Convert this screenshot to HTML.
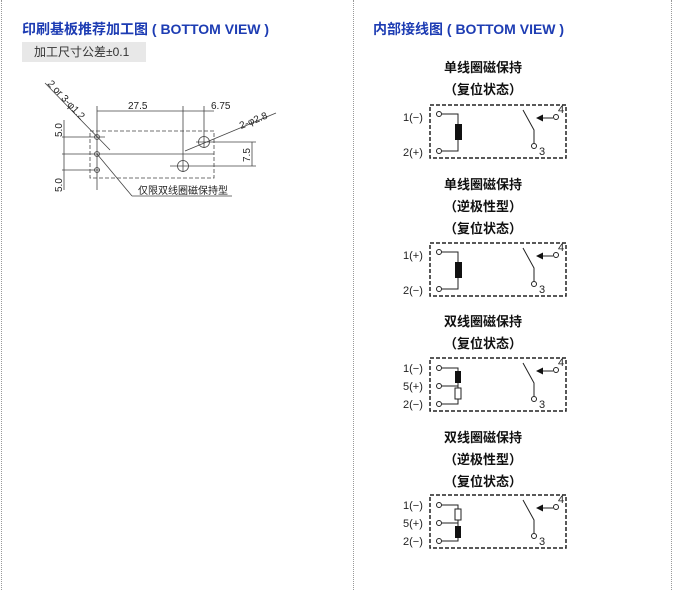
<!DOCTYPE html>
<html><head><meta charset="utf-8"><style>
html,body{margin:0;padding:0;background:#fff;}
body{width:673px;height:590px;position:relative;overflow:hidden;font-family:"Liberation Sans","Noto Sans CJK SC",sans-serif;}
.vl{position:absolute;top:0;height:590px;border-left:1px dotted #999;}
.h{position:absolute;top:19px;font-size:14px;font-weight:bold;color:#1d3cb3;white-space:nowrap;}
.tag{position:absolute;left:22px;top:42px;width:124px;height:20px;background:#e8e8e8;font-size:12px;color:#333;line-height:20px;text-indent:12px;}
svg{position:absolute;left:0;top:0;}
</style></head><body>
<div class="vl" style="left:1px"></div>
<div class="vl" style="left:353px"></div>
<div class="vl" style="left:671px"></div>
<div class="h" style="left:22px">印刷基板推荐加工图 ( BOTTOM VIEW )</div>
<div class="h" style="left:373px">内部接线图 ( BOTTOM VIEW )</div>
<div class="tag">加工尺寸公差±0.1</div>
<svg width="673" height="590" viewBox="0 0 673 590" font-family="Liberation Sans, Noto Sans CJK SC, sans-serif">
<defs>
<marker id="ar" markerWidth="6" markerHeight="6" refX="5" refY="3" orient="auto"><path d="M0,1 L5,3 L0,5z" fill="#333"/></marker>
</defs>
<g stroke="#444" stroke-width="0.8" fill="none">
<rect x="90" y="131" width="124" height="47" stroke-dasharray="4,2"/>
<circle cx="97" cy="137" r="2.5"/><circle cx="97" cy="154" r="2.5"/><circle cx="97" cy="170" r="2.5"/>
<circle cx="204" cy="142" r="5.5"/><circle cx="183" cy="166" r="5.5"/>
<line x1="97" y1="106" x2="97" y2="190"/><line x1="183" y1="106" x2="183" y2="172"/><line x1="204" y1="106" x2="204" y2="148"/>
<line x1="97" y1="111" x2="183" y2="111"/><line x1="183" y1="111" x2="214" y2="111"/>
<line x1="62" y1="137" x2="105" y2="137"/><line x1="62" y1="154" x2="214" y2="154"/><line x1="62" y1="170" x2="100" y2="170"/>
<line x1="64" y1="120" x2="64" y2="190"/>
<line x1="196" y1="142" x2="256" y2="142"/><line x1="170" y1="166" x2="256" y2="166"/>
<line x1="252" y1="142" x2="252" y2="166"/>
<line x1="185" y1="151" x2="276" y2="113"/>
<line x1="45" y1="83" x2="110" y2="150"/>
<line x1="97" y1="154" x2="132" y2="196"/><line x1="132" y1="196" x2="232" y2="196"/>
</g>
<g font-size="10" fill="#222">
<text x="128" y="109">27.5</text><text x="211" y="109">6.75</text>
<text transform="translate(62,137) rotate(-90)">5.0</text>
<text transform="translate(62,192) rotate(-90)">5.0</text>
<text transform="translate(250,162) rotate(-90)">7.5</text>
<text transform="translate(241,129) rotate(-22)">2-φ2.8</text>
<text transform="translate(47,84) rotate(47)">2 or 3-φ1.2</text>
<text x="138" y="194">仅限双线圈磁保持型</text>
</g>
<g font-size="13" font-weight="bold" fill="#111" text-anchor="middle">
<text x="483" y="72">单线圈磁保持</text><text x="483" y="94">（复位状态）</text>
<text x="483" y="189">单线圈磁保持</text><text x="483" y="211">（逆极性型）</text><text x="483" y="233">（复位状态）</text>
<text x="483" y="326">双线圈磁保持</text><text x="483" y="348">（复位状态）</text>
<text x="483" y="442">双线圈磁保持</text><text x="483" y="464">（逆极性型）</text><text x="483" y="486">（复位状态）</text>
</g>
<!-- circuit template -->
<g id="sw" stroke="#222" stroke-width="1" fill="none">
</g>
<g font-size="11" fill="#222">
<!-- box1 -->
<g transform="translate(0,0)">
<rect x="430" y="105" width="136" height="53" fill="none" stroke="#222" stroke-width="1.5" stroke-dasharray="4,2"/>
<text x="403" y="121">1(−)</text><text x="403" y="156">2(+)</text>
<g stroke="#222" fill="none"><circle cx="439" cy="114" r="2.5"/><circle cx="439" cy="151" r="2.5"/>
<polyline points="442,114 458,114 458,151 442,151"/></g>
<rect x="455" y="124" width="7" height="16" fill="#111"/>
</g>
<g transform="translate(0,138)">
<rect x="430" y="105" width="136" height="53" fill="none" stroke="#222" stroke-width="1.5" stroke-dasharray="4,2"/>
<text x="403" y="121">1(+)</text><text x="403" y="156">2(−)</text>
<g stroke="#222" fill="none"><circle cx="439" cy="114" r="2.5"/><circle cx="439" cy="151" r="2.5"/>
<polyline points="442,114 458,114 458,151 442,151"/></g>
<rect x="455" y="124" width="7" height="16" fill="#111"/>
</g>
<g transform="translate(0,253)">
<rect x="430" y="105" width="136" height="53" fill="none" stroke="#222" stroke-width="1.5" stroke-dasharray="4,2"/>
<text x="403" y="119">1(−)</text><text x="403" y="137">5(+)</text><text x="403" y="155">2(−)</text>
<g stroke="#222" fill="none"><circle cx="439" cy="115" r="2.5"/><circle cx="439" cy="133" r="2.5"/><circle cx="439" cy="151" r="2.5"/>
<polyline points="442,115 458,115 458,151 442,151"/><line x1="442" y1="133" x2="458" y2="133"/>
<rect x="455" y="135" width="6" height="11" fill="#fff"/></g>
<rect x="455" y="118" width="6" height="12" fill="#111"/>
</g>
<g transform="translate(0,390)">
<rect x="430" y="105" width="136" height="53" fill="none" stroke="#222" stroke-width="1.5" stroke-dasharray="4,2"/>
<text x="403" y="119">1(−)</text><text x="403" y="137">5(+)</text><text x="403" y="155">2(−)</text>
<g stroke="#222" fill="none"><circle cx="439" cy="115" r="2.5"/><circle cx="439" cy="133" r="2.5"/><circle cx="439" cy="151" r="2.5"/>
<polyline points="442,115 458,115 458,151 442,151"/><line x1="442" y1="133" x2="458" y2="133"/>
<rect x="455" y="119" width="6" height="11" fill="#fff"/></g>
<rect x="455" y="136" width="6" height="12" fill="#111"/>
</g>
</g>
<!-- switches -->
<g font-size="11" fill="#222">
<g transform="translate(0,0)"><g stroke="#222" fill="none"><polyline points="523,110 534,130 534,143"/><circle cx="534" cy="146" r="2.5"/><line x1="538" y1="118" x2="553" y2="118"/><circle cx="556" cy="117" r="2.5"/></g><path d="M536,118 L543,114.5 L543,121.5z" fill="#111"/><text x="539" y="155">3</text><text x="558" y="113">4</text></g>
<g transform="translate(0,138)"><g stroke="#222" fill="none"><polyline points="523,110 534,130 534,143"/><circle cx="534" cy="146" r="2.5"/><line x1="538" y1="118" x2="553" y2="118"/><circle cx="556" cy="117" r="2.5"/></g><path d="M536,118 L543,114.5 L543,121.5z" fill="#111"/><text x="539" y="155">3</text><text x="558" y="113">4</text></g>
<g transform="translate(0,253)"><g stroke="#222" fill="none"><polyline points="523,110 534,130 534,143"/><circle cx="534" cy="146" r="2.5"/><line x1="538" y1="118" x2="553" y2="118"/><circle cx="556" cy="117" r="2.5"/></g><path d="M536,118 L543,114.5 L543,121.5z" fill="#111"/><text x="539" y="155">3</text><text x="558" y="113">4</text></g>
<g transform="translate(0,390)"><g stroke="#222" fill="none"><polyline points="523,110 534,130 534,143"/><circle cx="534" cy="146" r="2.5"/><line x1="538" y1="118" x2="553" y2="118"/><circle cx="556" cy="117" r="2.5"/></g><path d="M536,118 L543,114.5 L543,121.5z" fill="#111"/><text x="539" y="155">3</text><text x="558" y="113">4</text></g>
</g>
</svg>
</body></html>
